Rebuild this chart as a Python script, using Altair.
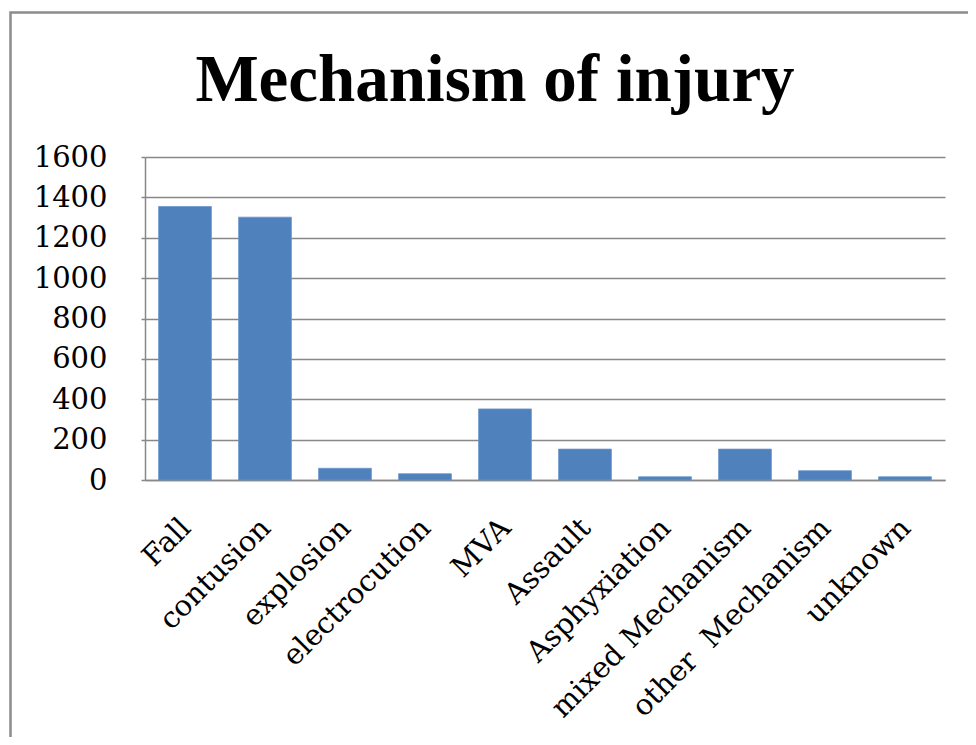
import altair as alt
import pandas as pd

categories = ["Fall", "contusion", "explosion", "electrocution", "MVA", "Assault",
              "Asphyxiation", "mixed Mechanism", "other\u00a0 Mechanism", "unknown"]
values = [1355, 1302, 58, 31, 352, 153, 16, 153, 46, 16]
y_ticks = [0, 200, 400, 600, 800, 1000, 1200, 1400, 1600]
title_text = "Mechanism of injury"

df = pd.DataFrame({"category": categories, "value": values})

W, H = 800, 323
PAD_L, PAD_T = 137, 149
TOTAL_W, TOTAL_H = 960, 729

bars = alt.Chart(df).mark_bar(color="#4F81BD", stroke="#6A95CC", strokeWidth=0.8).encode(
    x=alt.X("category:N", sort=categories, title=None,
            scale=alt.Scale(paddingInner=0.34, paddingOuter=0.17),
            axis=alt.Axis(labelAngle=315, labelAlign="right", labelBaseline="top",
                          labelFont="DejaVu Serif", labelFontSize=29, labelColor="#000000",
                          labelPadding=33, labelOffset=-9, ticks=False,
                          domainColor="#888888", domainWidth=1.5, labelLimit=400)),
    y=alt.Y("value:Q", title=None,
            scale=alt.Scale(domain=[0, 1600], nice=False),
            axis=alt.Axis(values=y_ticks, format="d", labelFont="DejaVu Serif", labelFontSize=29,
                          labelColor="#000000", labelPadding=34, tickSize=4,
                          tickColor="#888888", tickWidth=1.5,
                          grid=True, gridColor="#888888", gridWidth=1.5,
                          domainColor="#888888", domainWidth=1.5)),
)

frame = alt.Chart(pd.DataFrame({"a": [0]})).mark_rect(
    fill=None, stroke="#8c8c8c", strokeWidth=2.5, clip=False
).encode(
    x=alt.value(10.5 - 8 - PAD_L),
    x2=alt.value(1200),
    y=alt.value(12.5 - 8 - PAD_T),
    y2=alt.value(900),
)

title = alt.Chart(pd.DataFrame({"t": [title_text]})).mark_text(
    font="Liberation Serif", fontSize=67, fontWeight="bold", color="#000000",
    align="center", baseline="alphabetic", clip=False
).encode(
    text="t:N",
    x=alt.value(495 - 8 - PAD_L),
    y=alt.value(101 - 8 - PAD_T),
)

chart = alt.layer(frame, bars, title).properties(
    width=W, height=H,
    autosize=alt.AutoSizeParams(type="none"),
    padding={"left": PAD_L, "top": PAD_T, "right": TOTAL_W - PAD_L - W,
             "bottom": TOTAL_H - PAD_T - H},
).configure_view(stroke=None)

chart.save("out.html", embed_options={"renderer": "svg", "actions": False})
